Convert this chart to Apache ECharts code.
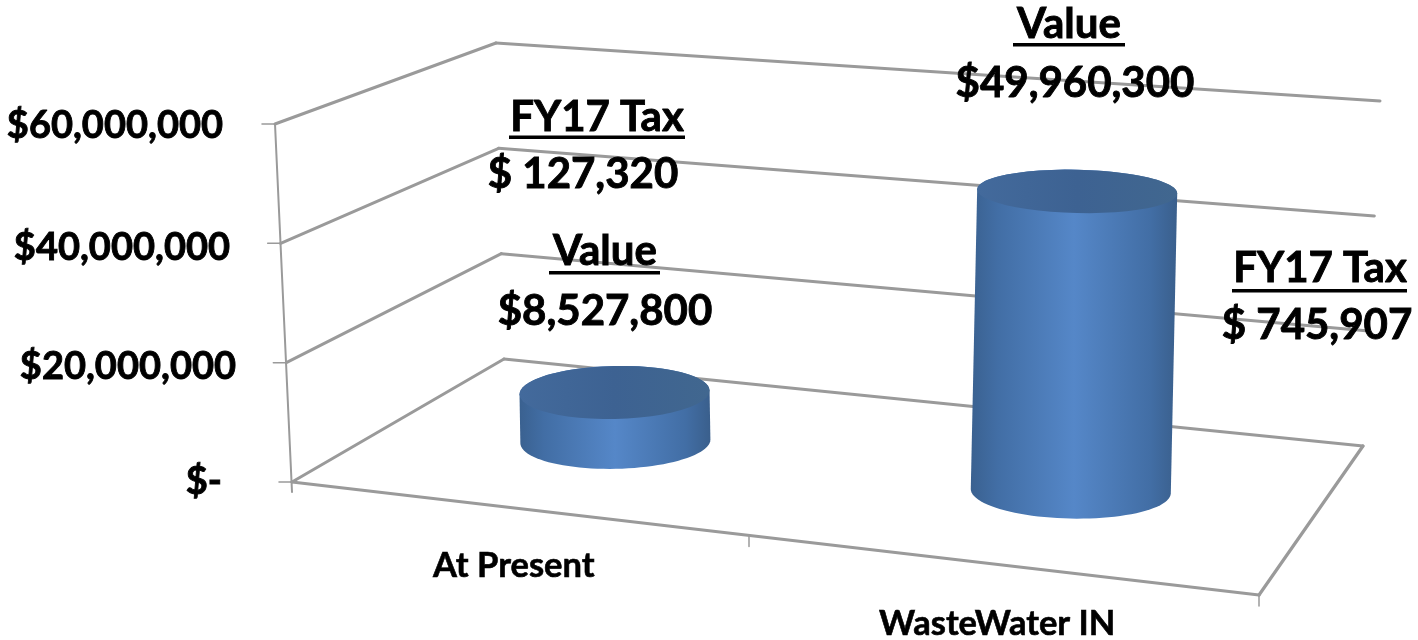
<!DOCTYPE html>
<html>
<head>
<meta charset="utf-8">
<title>Value and FY17 Tax</title>
<script src="https://cdn.jsdelivr.net/npm/echarts@6/dist/echarts.min.js"></script>
<style>
  html, body { margin: 0; padding: 0; background: #fff; }
  #chart { width: 1418px; height: 640px; }
</style>
</head>
<body>
<div id="chart"></div>
<script>
var categories = ['At Present', 'WasteWater IN']
var barValues = [8527800, 49960300]
var yTicks = [0, 20000000, 40000000, 60000000]
var yTickLabels = ['$-', '$20,000,000', '$40,000,000', '$60,000,000']

var valueTitle = 'Value'
var taxTitle = 'FY17 Tax'
var valueLabels = ['$8,527,800', '$49,960,300']
var taxLabels = ['$ 127,320', '$ 745,907']

// layout of the box, the 3d look is done by hand since echarts has no 3d bars
var FONT = 'Lato'
var LINE = '#9a9a9a'
var floor = { fl: [292, 482], fr: [1259, 595], bl: [504, 359], br: [1363, 446] }
var up = { fl: [-17, -358], fr: [12.7, -394], bl: [-8, -316], br: [17, -345] }
var BAR_DEPTH = 0.52
var BAR_SHIFT = -0.016
var MID_TICK = 0.4726

function mix(a, b, t) {
  return [a[0] + (b[0] - a[0]) * t, a[1] + (b[1] - a[1]) * t]
}

function quad(q, u, v) {
  return mix(mix(q.fl, q.fr, u), mix(q.bl, q.br, u), v)
}

// u across, v into the depth, h share of axis height
function project(u, v, h) {
  var f = quad(floor, u, v)
  var w = quad(up, u, v)
  return [f[0] + w[0] * h, f[1] + w[1] * h]
}

function heightOf(api, params, value) {
  var sys = params.coordSys
  return (sys.y + sys.height - api.coord([0, value])[1]) / sys.height
}

function arc(c, rx, ry, tilt, from, to) {
  var pts = []
  for (var i = 0; i <= 48; i++) {
    var t = from + (to - from) * i / 48
    var x = rx * Math.cos(t)
    var y = ry * Math.sin(t)
    pts.push([
      c[0] + x * Math.cos(tilt) - y * Math.sin(tilt),
      c[1] + x * Math.sin(tilt) + y * Math.cos(tilt)
    ])
  }
  return pts
}

function line(a, b, width) {
  return {
    type: 'line',
    shape: { x1: a[0], y1: a[1], x2: b[0], y2: b[1] },
    style: { stroke: LINE, lineWidth: width, lineCap: 'round' }
  }
}

function renderWall(params, api) {
  var h = heightOf(api, params, api.value(1))
  var a = project(0, 0, h)
  var b = project(0, 1, h)
  var c = project(1, 1, h)
  var children = [
    line(a, b, 3),
    line(b, c, 3),
    line([a[0] - 13, a[1]], a, 1.5)
  ]
  return { type: 'group', children: children }
}

function renderFrame(params, api) {
  if (params.dataIndex > 0) {
    return null
  }
  var fl = project(0, 0, 0)
  var fr = project(1, 0, 0)
  var br = project(1, 1, 0)
  var top = project(0, 0, 1)
  var mid = project(MID_TICK, 0, 0)
  return {
    type: 'group',
    children: [
      line(top, [fl[0], fl[1] + 10], 2),
      line(fl, fr, 3.2),
      line(fr, br, 3.2),
      line(mid, [mid[0], mid[1] + 11], 1.5),
      line(fr, [fr[0], fr[1] + 11], 1.5)
    ]
  }
}

function renderCylinder(params, api) {
  var sys = params.coordSys
  var u = (api.coord([api.value(0), 0])[0] - sys.x) / sys.width + BAR_SHIFT
  var h = heightOf(api, params, api.value(1))
  var base = project(u, BAR_DEPTH, 0)
  var lid = project(u, BAR_DEPTH, h)
  var rx = 92.7 + 10 * u
  var ry = 27.5 - 7 * h
  var tilt = (u - 0.48) * 0.084
  var side = arc(lid, rx, ry, tilt, Math.PI, 2 * Math.PI)
    .concat(arc(base, rx, 27.5, tilt, 0, Math.PI))
  return {
    type: 'group',
    children: [
      {
        type: 'polygon',
        shape: { points: side },
        style: {
          fill: {
            type: 'linear', x: 0, y: 0, x2: 1, y2: 0,
            colorStops: [
              { offset: 0, color: '#3a6190' },
              { offset: 0.13, color: '#426ea5' },
              { offset: 0.5, color: '#5587c8' },
              { offset: 0.87, color: '#426ea5' },
              { offset: 1, color: '#3a5f8c' }
            ]
          }
        }
      },
      {
        type: 'polygon',
        shape: { points: arc(lid, rx, ry, tilt, 0, 2 * Math.PI) },
        style: {
          fill: {
            type: 'linear', x: 0, y: 0, x2: 1, y2: 0,
            colorStops: [
              { offset: 0, color: '#436a9c' },
              { offset: 0.5, color: '#3d6292' },
              { offset: 1, color: '#41678f' }
            ]
          }
        }
      }
    ]
  }
}

function note(text, x, y, size) {
  return {
    type: 'text',
    z: 100,
    silent: true,
    style: {
      text: text, x: x, y: y, fill: '#000',
      font: 'bold ' + size + 'px ' + FONT,
      stroke: '#000', lineWidth: 0.9,
      textAlign: 'center', textVerticalAlign: 'middle'
    }
  }
}

function underline(x1, x2, y) {
  return {
    type: 'rect',
    z: 100,
    silent: true,
    shape: { x: x1, y: y, width: x2 - x1, height: 3.5 },
    style: { fill: '#000' }
  }
}

var yRich = {
  t0: { padding: [0, 14, 0, 0] },
  t1: { padding: [8, 0, 0, 0] },
  t2: { padding: [8, 6, 0, 0] },
  t3: { padding: [4, 13, 0, 0] }
}
Object.keys(yRich).forEach(function(k) {
  yRich[k].fontFamily = FONT
  yRich[k].fontWeight = 'bold'
  yRich[k].fontSize = 38
  yRich[k].color = '#000'
  yRich[k].textBorderColor = '#000'
  yRich[k].textBorderWidth = 0.9
})

var xRich = {
  c0: { padding: [58, 40, 0, 0] },
  c1: { padding: [116, 40, 0, 0] }
}
Object.keys(xRich).forEach(function(k) {
  xRich[k].fontFamily = FONT
  xRich[k].fontWeight = 'bold'
  xRich[k].fontSize = 34.5
  xRich[k].color = '#000'
  xRich[k].textBorderColor = '#000'
  xRich[k].textBorderWidth = 0.6
})

var chart = echarts.init(document.getElementById('chart'), null, { renderer: 'canvas' })

chart.setOption({
  animation: false,
  backgroundColor: '#fff',
  grid: { left: 292, right: 159, top: 124, bottom: 158, outerBoundsMode: 'none' },
  xAxis: {
    type: 'category',
    data: categories,
    axisLine: { show: false },
    axisTick: { show: false },
    axisLabel: {
      interval: 0,
      margin: 8,
      formatter: function(value, index) {
        return '{c' + index + '|' + value + '}'
      },
      rich: xRich
    }
  },
  yAxis: {
    type: 'value',
    min: 0,
    max: 60000000,
    interval: 20000000,
    splitLine: { show: false },
    axisLine: { show: false },
    axisTick: { show: false },
    axisLabel: {
      margin: 56,
      formatter: function(value) {
        var i = yTicks.indexOf(value)
        return '{t' + i + '|' + yTickLabels[i] + '}'
      },
      rich: yRich
    }
  },
  series: [
    {
      type: 'custom',
      name: 'walls',
      z: 1,
      silent: true,
      clip: false,
      renderItem: renderWall,
      encode: { x: 0, y: 1 },
      data: yTicks.map(function(t) { return [0, t] })
    },
    {
      type: 'custom',
      name: 'frame',
      z: 1,
      silent: true,
      clip: false,
      renderItem: renderFrame,
      encode: { x: 0, y: 1 },
      data: [[0, 0]]
    },
    {
      type: 'custom',
      name: 'Value',
      z: 2,
      silent: true,
      clip: false,
      renderItem: renderCylinder,
      encode: { x: 0, y: 1 },
      data: barValues.map(function(v, i) { return [i, v] })
    }
  ],
  graphic: [
    note(taxTitle, 597, 117, 42),
    underline(509, 685, 135.5),
    note(taxLabels[0], 583, 174, 42),
    note(valueTitle, 605, 251, 42),
    underline(549, 660, 271),
    note(valueLabels[0], 605, 311, 42),
    note(valueTitle, 1069, 24, 42),
    underline(1013, 1125, 43),
    note(valueLabels[1], 1075, 83, 42),
    note(taxTitle, 1320, 268, 42),
    underline(1232, 1407, 289),
    note(taxLabels[1], 1317, 325, 42)
  ]
})
</script>
</body>
</html>
